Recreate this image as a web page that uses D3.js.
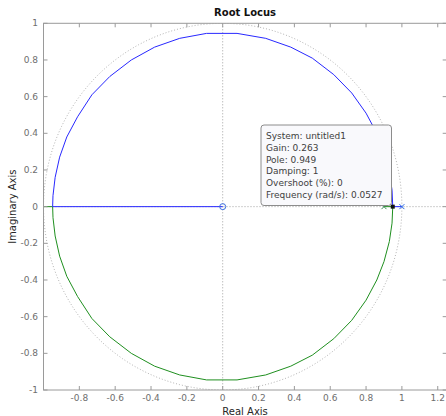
<!DOCTYPE html>
<html>
<head>
<meta charset="utf-8">
<script src="https://cdn.jsdelivr.net/npm/d3@7"></script>
<style>
  body { margin: 0; background: #fff; }
  text { font-family: "DejaVu Sans", sans-serif; }
</style>
</head>
<body>
<div id="chart"></div>
<script>
// Root locus data
const poles = [0.9, 1.0];
const zeros = [0];
const upperBranch = [
    [1.0, 0], [0.949, 0], [0.945, 0.09], [0.93, 0.19], [0.90, 0.30], [0.86, 0.40],
    [0.80, 0.51], [0.72, 0.62], [0.62, 0.72], [0.50, 0.81], [0.38, 0.87],
    [0.24, 0.918], [0.08, 0.945], [-0.09, 0.945], [-0.24, 0.918], [-0.38, 0.87],
    [-0.51, 0.80], [-0.63, 0.71], [-0.73, 0.61], [-0.81, 0.49], [-0.87, 0.38],
    [-0.91, 0.27], [-0.935, 0.16], [-0.947, 0.06], [-0.949, 0], [0, 0]
];
const lowerBranch = [
    [0.9, 0], [0.949, 0], [0.945, -0.09], [0.93, -0.19], [0.90, -0.30], [0.86, -0.40],
    [0.80, -0.51], [0.72, -0.62], [0.62, -0.72], [0.50, -0.81], [0.38, -0.87],
    [0.24, -0.918], [0.08, -0.945], [-0.09, -0.945], [-0.24, -0.918], [-0.38, -0.87],
    [-0.51, -0.80], [-0.63, -0.71], [-0.73, -0.61], [-0.81, -0.49], [-0.87, -0.38],
    [-0.91, -0.27], [-0.935, -0.16], [-0.947, -0.06], [-0.949, 0], [-1.0, 0]
];
const xTicks = [-0.8, -0.6, -0.4, -0.2, 0, 0.2, 0.4, 0.6, 0.8, 1, 1.2];
const yTicks = [-1, -0.8, -0.6, -0.4, -0.2, 0, 0.2, 0.4, 0.6, 0.8, 1];
const tipPoint = [0.949, 0];
const tipLines = [
    'System: untitled1',
    'Gain: 0.263',
    'Pole: 0.949',
    'Damping: 1',
    'Overshoot (%): 0',
    'Frequency (rad/s): 0.0527'
];

const width = 446, height = 416;
const margin = { top: 23.3, right: -0.7, bottom: 26, left: 43.5 };

const svg = d3.select('#chart').append('svg')
    .attr('width', width)
    .attr('height', height);

const x = d3.scaleLinear().domain([-1, 1.25]).range([margin.left, width - margin.right]);
const y = d3.scaleLinear().domain([-1, 1]).range([height - margin.bottom, margin.top]);

const clip = svg.append('clipPath').attr('id', 'plot-clip')
    .append('rect')
    .attr('x', x(-1)).attr('y', y(1))
    .attr('width', x(1.25) - x(-1)).attr('height', y(-1) - y(1));

const plot = svg.append('g').attr('clip-path', 'url(#plot-clip)');

// unit circle grid (dotted)
const angles = d3.range(0, 361, 2);
plot.append('path')
    .datum(angles)
    .attr('d', d3.line().x(a => x(Math.cos(a * Math.PI / 180))).y(a => y(Math.sin(a * Math.PI / 180))))
    .attr('fill', 'none')
    .attr('stroke', '#a0a0a0')
    .attr('stroke-width', 0.8)
    .attr('stroke-dasharray', '1,2');

// zero lines
plot.append('line')
    .attr('x1', x(0)).attr('x2', x(0)).attr('y1', y(1)).attr('y2', y(-1))
    .attr('stroke', '#8a8a8a').attr('stroke-width', 0.8).attr('stroke-dasharray', '1,2');
plot.append('line')
    .attr('x1', x(-1)).attr('x2', x(1.25)).attr('y1', y(0)).attr('y2', y(0))
    .attr('stroke', '#8a8a8a').attr('stroke-width', 0.8).attr('stroke-dasharray', '1,2');

const line = d3.line().x(d => x(d[0])).y(d => y(d[1]));

plot.append('path')
    .datum(lowerBranch)
    .attr('d', line)
    .attr('fill', 'none')
    .attr('stroke', '#1f8f1f')
    .attr('stroke-width', 1);

plot.append('path')
    .datum(upperBranch)
    .attr('d', line)
    .attr('fill', 'none')
    .attr('stroke', '#2828ff')
    .attr('stroke-width', 1);

// zero marker
plot.selectAll('.zero')
    .data(zeros)
    .enter().append('circle')
    .attr('cx', d => x(d)).attr('cy', y(0)).attr('r', 3)
    .attr('fill', 'none').attr('stroke', '#3a6fe0').attr('stroke-width', 1);

// pole markers
const poleColors = ['#3a8f5a', '#2a6ae8'];
poles.forEach((p, i) => {
    const px = x(p), py = y(0), s = 2.5;
    plot.append('path')
        .attr('d', `M${px - s},${py - s}L${px + s},${py + s}M${px - s},${py + s}L${px + s},${py - s}`)
        .attr('stroke', poleColors[i])
        .attr('stroke-width', 1);
});

// axes box and ticks
const axesColor = '#9a9a9a';
svg.append('rect')
    .attr('x', x(-1)).attr('y', y(1))
    .attr('width', x(1.25) - x(-1)).attr('height', y(-1) - y(1))
    .attr('fill', 'none').attr('stroke', axesColor).attr('stroke-width', 1);

const tickLen = 4;
xTicks.forEach(t => {
    svg.append('line').attr('x1', x(t)).attr('x2', x(t))
        .attr('y1', y(-1)).attr('y2', y(-1) - tickLen).attr('stroke', axesColor);
    svg.append('line').attr('x1', x(t)).attr('x2', x(t))
        .attr('y1', y(1)).attr('y2', y(1) + tickLen).attr('stroke', axesColor);
});
yTicks.forEach(t => {
    svg.append('line').attr('x1', x(-1)).attr('x2', x(-1) + tickLen)
        .attr('y1', y(t)).attr('y2', y(t)).attr('stroke', axesColor);
    svg.append('line').attr('x1', x(1.25)).attr('x2', x(1.25) - tickLen)
        .attr('y1', y(t)).attr('y2', y(t)).attr('stroke', axesColor);
});

const tickFmt = d => String(d).replace('-', '-');
svg.selectAll('.xlab')
    .data(xTicks)
    .enter().append('text')
    .attr('x', d => x(d))
    .attr('y', y(-1) + 11)
    .attr('text-anchor', 'middle')
    .attr('font-size', 9)
    .attr('fill', '#6e6e6e')
    .text(tickFmt);

svg.selectAll('.ylab')
    .data(yTicks)
    .enter().append('text')
    .attr('x', x(-1) - 5.5)
    .attr('y', d => y(d) + 3)
    .attr('text-anchor', 'end')
    .attr('font-size', 9)
    .attr('fill', '#6e6e6e')
    .text(tickFmt);

// title and axis labels
svg.append('text')
    .attr('x', (x(-1) + x(1.25)) / 2)
    .attr('y', 16)
    .attr('text-anchor', 'middle')
    .attr('font-size', 10)
    .attr('font-weight', 'bold')
    .attr('fill', '#111')
    .text('Root Locus');

svg.append('text')
    .attr('x', (x(-1) + x(1.25)) / 2)
    .attr('y', 415)
    .attr('text-anchor', 'middle')
    .attr('font-size', 10)
    .attr('fill', '#262626')
    .text('Real Axis');

svg.append('text')
    .attr('transform', `translate(15.5,${y(0)}) rotate(-90)`)
    .attr('text-anchor', 'middle')
    .attr('font-size', 10)
    .attr('fill', '#262626')
    .text('Imaginary Axis');

// data tip
const tip = svg.append('g');
tip.append('rect')
    .attr('x', 261).attr('y', 125)
    .attr('width', 130.5).attr('height', 80.5)
    .attr('rx', 3).attr('ry', 3)
    .attr('fill', '#f9f9fc')
    .attr('stroke', '#8c8c8c')
    .attr('stroke-width', 1);
tip.selectAll('text')
    .data(tipLines)
    .enter().append('text')
    .attr('x', 266)
    .attr('y', (d, i) => 139 + i * 11.8)
    .attr('font-size', 9)
    .attr('fill', '#404040')
    .text(d => d);

svg.append('rect')
    .attr('x', x(tipPoint[0]) - 2).attr('y', y(tipPoint[1]) - 2)
    .attr('width', 4).attr('height', 4)
    .attr('fill', '#111');
</script>
</body>
</html>
